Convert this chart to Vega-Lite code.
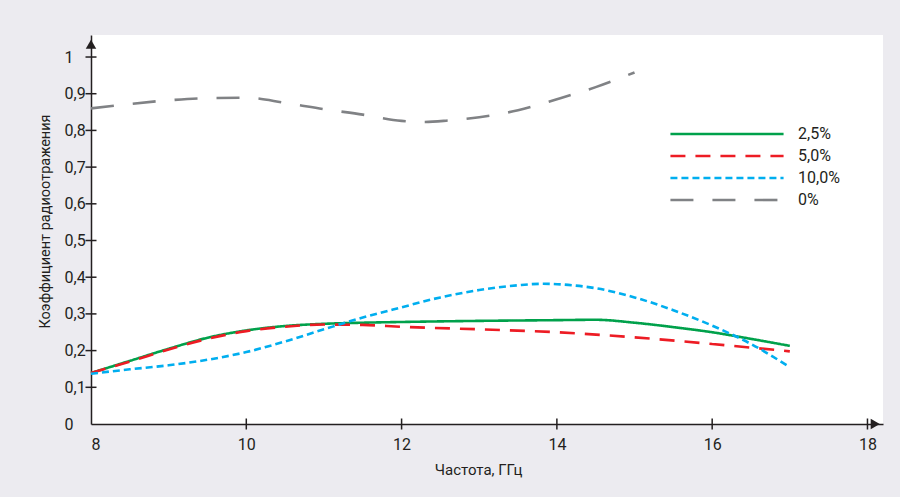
{
  "$schema": "https://vega.github.io/schema/vega-lite/v6.json",
  "width": 792,
  "height": 389,
  "autosize": {"type": "none"},
  "padding": {"left": 91, "top": 35, "right": 17, "bottom": 73},
  "background": "#ecebf0",
  "config": {
    "view": {"fill": "white", "stroke": null},
    "font": "Roboto",
    "axis": {
      "domainColor": "#231f20", "domainWidth": 1.5, "ticks": false, "tickSize": 0,
      "labelColor": "#231f20", "titleColor": "#231f20", "labelFontSize": 16, "titleFontSize": 15,
      "titleFontWeight": "normal", "grid": false, "labelOverlap": false, "labelSeparation": 0
    },
    "axisY": {"labelOverlap": false}
  },
  "datasets": {
    "curves": [
      {"s": "2,5%", "f": 8, "k": 0.139}, {"s": "2,5%", "f": 8.5, "k": 0.172}, {"s": "2,5%", "f": 9, "k": 0.205},
      {"s": "2,5%", "f": 9.5, "k": 0.235}, {"s": "2,5%", "f": 10, "k": 0.255}, {"s": "2,5%", "f": 10.5, "k": 0.267},
      {"s": "2,5%", "f": 11, "k": 0.273}, {"s": "2,5%", "f": 11.5, "k": 0.276}, {"s": "2,5%", "f": 12, "k": 0.278},
      {"s": "2,5%", "f": 13, "k": 0.281}, {"s": "2,5%", "f": 14, "k": 0.283}, {"s": "2,5%", "f": 14.5, "k": 0.284},
      {"s": "2,5%", "f": 15, "k": 0.276}, {"s": "2,5%", "f": 15.5, "k": 0.264}, {"s": "2,5%", "f": 16, "k": 0.25},
      {"s": "2,5%", "f": 16.5, "k": 0.232}, {"s": "2,5%", "f": 17, "k": 0.213},
      {"s": "5,0%", "f": 8, "k": 0.139}, {"s": "5,0%", "f": 8.5, "k": 0.17}, {"s": "5,0%", "f": 9, "k": 0.203},
      {"s": "5,0%", "f": 9.5, "k": 0.232}, {"s": "5,0%", "f": 10, "k": 0.253}, {"s": "5,0%", "f": 10.5, "k": 0.265},
      {"s": "5,0%", "f": 11, "k": 0.271}, {"s": "5,0%", "f": 11.5, "k": 0.27}, {"s": "5,0%", "f": 12, "k": 0.265},
      {"s": "5,0%", "f": 13, "k": 0.258}, {"s": "5,0%", "f": 14, "k": 0.25}, {"s": "5,0%", "f": 15, "k": 0.236},
      {"s": "5,0%", "f": 16, "k": 0.218}, {"s": "5,0%", "f": 17, "k": 0.198},
      {"s": "10,0%", "f": 8, "k": 0.137}, {"s": "10,0%", "f": 8.5, "k": 0.149}, {"s": "10,0%", "f": 9, "k": 0.16},
      {"s": "10,0%", "f": 9.5, "k": 0.175}, {"s": "10,0%", "f": 10, "k": 0.196}, {"s": "10,0%", "f": 10.5, "k": 0.225},
      {"s": "10,0%", "f": 11, "k": 0.258}, {"s": "10,0%", "f": 11.5, "k": 0.29}, {"s": "10,0%", "f": 12, "k": 0.318},
      {"s": "10,0%", "f": 12.5, "k": 0.345}, {"s": "10,0%", "f": 13, "k": 0.365}, {"s": "10,0%", "f": 13.5, "k": 0.378},
      {"s": "10,0%", "f": 13.8, "k": 0.382}, {"s": "10,0%", "f": 14.2, "k": 0.378}, {"s": "10,0%", "f": 14.5, "k": 0.37},
      {"s": "10,0%", "f": 15, "k": 0.345}, {"s": "10,0%", "f": 15.5, "k": 0.31}, {"s": "10,0%", "f": 16, "k": 0.268},
      {"s": "10,0%", "f": 16.5, "k": 0.218}, {"s": "10,0%", "f": 17, "k": 0.155},
      {"s": "0%", "f": 8, "k": 0.86}, {"s": "0%", "f": 8.5, "k": 0.872}, {"s": "0%", "f": 9, "k": 0.882},
      {"s": "0%", "f": 9.5, "k": 0.888}, {"s": "0%", "f": 10, "k": 0.889}, {"s": "0%", "f": 10.5, "k": 0.875},
      {"s": "0%", "f": 11, "k": 0.858}, {"s": "0%", "f": 11.5, "k": 0.843}, {"s": "0%", "f": 12, "k": 0.826},
      {"s": "0%", "f": 12.3, "k": 0.823}, {"s": "0%", "f": 12.6, "k": 0.827}, {"s": "0%", "f": 13, "k": 0.836},
      {"s": "0%", "f": 13.5, "k": 0.855}, {"s": "0%", "f": 14, "k": 0.885}, {"s": "0%", "f": 14.5, "k": 0.918},
      {"s": "0%", "f": 15, "k": 0.958}
    ]
  },
  "layer": [
    {
      "data": {"name": "curves"},
      "mark": {"type": "line", "interpolate": "monotone", "strokeWidth": 2.6},
      "encoding": {
        "x": {
          "field": "f", "type": "quantitative", "scale": {"domain": [8, 18.2], "nice": false, "zero": false},
          "axis": {
            "values": [8, 10, 12, 14, 16, 18], "labelExpr": "format(datum.value, '~g')", "labelOverlap": false,
            "title": "Частота, ГГц", "labelPadding": 12, "titlePadding": 10, "titleX": 387
          }
        },
        "y": {
          "field": "k", "type": "quantitative", "scale": {"domain": [0, 1.06], "nice": false},
          "axis": {
            "tickCount": 11,
            "labelExpr": "replace(format(datum.value, '~g'), '.', ',')", "labelOverlap": false,
            "labelAlign": "left", "labelPadding": 27,
            "title": "Коэффициент радиоотражения", "titleFontSize": 14.5, "titleX": -39, "titleY": 186
          }
        },
        "color": {
          "field": "s", "type": "nominal",
          "scale": {"domain": ["2,5%", "5,0%", "10,0%", "0%"], "range": ["#00a14b", "#ed1c24", "#00aeef", "#808285"]},
          "legend": {
            "title": null, "orient": "none", "legendX": 628, "legendY": 91,
            "symbolType": "M-20,0H20", "symbolSize": 32, "symbolStrokeWidth": 2.6,
            "labelFontSize": 16, "labelColor": "#231f20", "labelOffset": 63, "rowPadding": 6
          }
        },
        "strokeDash": {
          "field": "s", "type": "nominal",
          "scale": {"domain": ["2,5%", "5,0%", "10,0%", "0%"], "range": [[1, 0], [15, 10], [7, 4], [23, 19]]},
          "legend": null
        }
      }
    },
    {
      "data": {"values": [{"f": 10}, {"f": 12}, {"f": 14}, {"f": 16}, {"f": 18}]},
      "mark": {"type": "tick", "orient": "vertical", "color": "#231f20", "size": 11, "thickness": 1.5, "opacity": 1},
      "encoding": {"x": {"field": "f", "type": "quantitative"}, "y": {"datum": 0}}
    },
    {
      "data": {"values": [{"k": 0.1}, {"k": 0.2}, {"k": 0.3}, {"k": 0.4}, {"k": 0.5}, {"k": 0.6}, {"k": 0.7}, {"k": 0.8}, {"k": 0.9}, {"k": 1}]},
      "mark": {"type": "tick", "orient": "horizontal", "color": "#231f20", "size": 11, "thickness": 1.5, "opacity": 1},
      "encoding": {"y": {"field": "k", "type": "quantitative"}, "x": {"datum": 8}}
    },
    {
      "data": {"values": [{"f": 18.1, "k": 0}]},
      "mark": {"type": "point", "shape": "triangle-right", "filled": true, "color": "#231f20", "size": 110, "opacity": 1, "clip": false},
      "encoding": {"x": {"field": "f", "type": "quantitative"}, "y": {"field": "k", "type": "quantitative"}}
    },
    {
      "data": {"values": [{"f": 8, "k": 1.035}]},
      "mark": {"type": "point", "shape": "triangle-up", "filled": true, "color": "#231f20", "size": 110, "opacity": 1, "clip": false},
      "encoding": {"x": {"field": "f", "type": "quantitative"}, "y": {"field": "k", "type": "quantitative"}}
    }
  ]
}
